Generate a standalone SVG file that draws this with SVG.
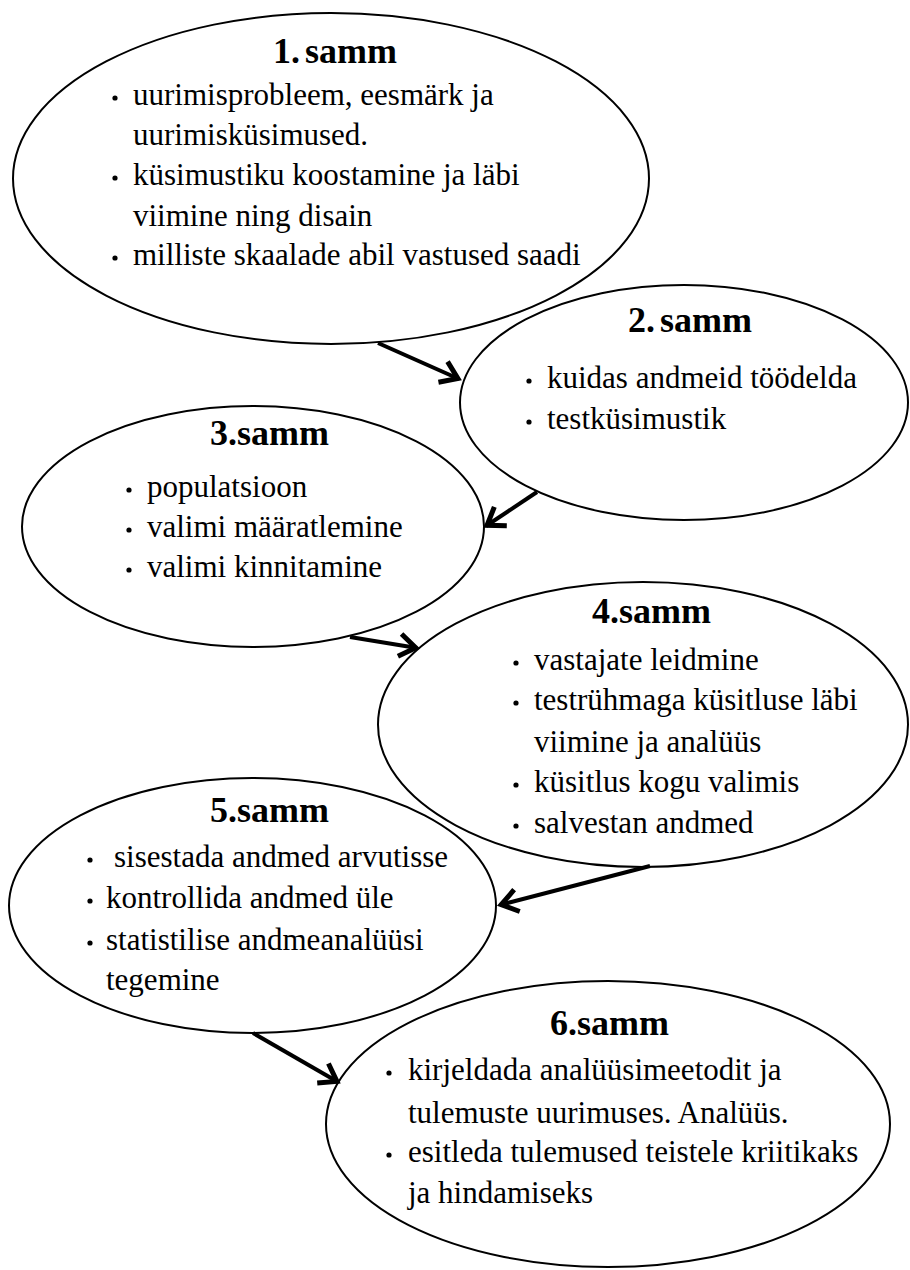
<svg xmlns="http://www.w3.org/2000/svg" width="910" height="1270" viewBox="0 0 910 1270">
<style>
.node ellipse{fill:none;stroke:#000;stroke-width:2}
.title{font-family:"Liberation Serif","Times New Roman",serif;font-weight:bold;font-size:36px;fill:#000}
.body{font-family:"Liberation Serif","Times New Roman",serif;font-size:31px;fill:#000}
.dot{fill:#000}
.conn line{stroke:#000;stroke-width:4;marker-end:url(#arr)}
</style>
<defs>
<marker id="arr" markerUnits="userSpaceOnUse" markerWidth="30" markerHeight="30" viewBox="-16 -12 20 24" refX="1" refY="0" orient="auto">
<path d="M-13,-9 L0,0 L-13,9" fill="none" stroke="#000" stroke-width="4" stroke-linejoin="miter"/>
</marker>
</defs>
<rect width="910" height="1270" fill="#fff"/>
<g id="node1" class="node">
<ellipse cx="331" cy="178.5" rx="318" ry="165.5"/>
<text class="title" x="273" y="63">1.<tspan dx="5">samm</tspan></text>
<circle class="dot" cx="115" cy="98" r="2.6"/>
<text class="body" x="133" y="105">uurimisprobleem, eesmärk ja</text>
<text class="body" x="133" y="145">uurimisküsimused.</text>
<circle class="dot" cx="115" cy="178" r="2.6"/>
<text class="body" x="133" y="185">küsimustiku koostamine ja läbi</text>
<text class="body" x="133" y="226">viimine ning disain</text>
<circle class="dot" cx="115" cy="258" r="2.6"/>
<text class="body" x="133" y="265">milliste skaalade abil vastused saadi</text>
</g>
<g id="node2" class="node">
<ellipse cx="684" cy="402.5" rx="224" ry="117.5"/>
<text class="title" x="628" y="332">2.<tspan dx="5">samm</tspan></text>
<circle class="dot" cx="529" cy="381" r="2.6"/>
<text class="body" x="547" y="388">kuidas andmeid töödelda</text>
<circle class="dot" cx="529" cy="422" r="2.6"/>
<text class="body" x="547" y="429">testküsimustik</text>
</g>
<g id="node3" class="node">
<ellipse cx="253" cy="526.5" rx="231" ry="120.5"/>
<text class="title" x="210" y="445">3.samm</text>
<circle class="dot" cx="129" cy="490" r="2.6"/>
<text class="body" x="147" y="497">populatsioon</text>
<circle class="dot" cx="129" cy="530" r="2.6"/>
<text class="body" x="147" y="537">valimi määratlemine</text>
<circle class="dot" cx="129" cy="570" r="2.6"/>
<text class="body" x="147" y="577">valimi kinnitamine</text>
</g>
<g id="node4" class="node">
<ellipse cx="643" cy="724.5" rx="265" ry="142.5"/>
<text class="title" x="592" y="623">4.samm</text>
<circle class="dot" cx="516" cy="663" r="2.6"/>
<text class="body" x="534" y="670">vastajate leidmine</text>
<circle class="dot" cx="516" cy="703" r="2.6"/>
<text class="body" x="534" y="710">testrühmaga küsitluse läbi</text>
<text class="body" x="534" y="752">viimine ja analüüs</text>
<circle class="dot" cx="516" cy="785" r="2.6"/>
<text class="body" x="534" y="792">küsitlus kogu valimis</text>
<circle class="dot" cx="516" cy="826" r="2.6"/>
<text class="body" x="534" y="833">salvestan andmed</text>
</g>
<g id="node5" class="node">
<ellipse cx="252.5" cy="905.5" rx="243.5" ry="127.5"/>
<text class="title" x="210" y="822">5.samm</text>
<circle class="dot" cx="90" cy="860" r="2.6"/>
<text class="body" x="114" y="867">sisestada andmed arvutisse</text>
<circle class="dot" cx="90" cy="901" r="2.6"/>
<text class="body" x="106" y="908">kontrollida andmed üle</text>
<circle class="dot" cx="90" cy="943" r="2.6"/>
<text class="body" x="106" y="950">statistilise andmeanalüüsi</text>
<text class="body" x="106" y="990">tegemine</text>
</g>
<g id="node6" class="node">
<ellipse cx="608" cy="1124" rx="282" ry="143"/>
<text class="title" x="550" y="1035">6.samm</text>
<circle class="dot" cx="389" cy="1073" r="2.6"/>
<text class="body" x="408" y="1080">kirjeldada analüüsimeetodit ja</text>
<text class="body" x="408" y="1123">tulemuste uurimuses. Analüüs.</text>
<circle class="dot" cx="389" cy="1155" r="2.6"/>
<text class="body" x="408" y="1162">esitleda tulemused teistele kriitikaks</text>
<text class="body" x="408" y="1203">ja hindamiseks</text>
</g>
<g id="connectors" class="conn">
<line x1="378" y1="343" x2="459" y2="379"/>
<line x1="537" y1="492" x2="486" y2="526"/>
<line x1="350" y1="637" x2="417" y2="648"/>
<line x1="650" y1="866" x2="500" y2="905"/>
<line x1="253" y1="1033" x2="338" y2="1082"/>
</g>
</svg>
